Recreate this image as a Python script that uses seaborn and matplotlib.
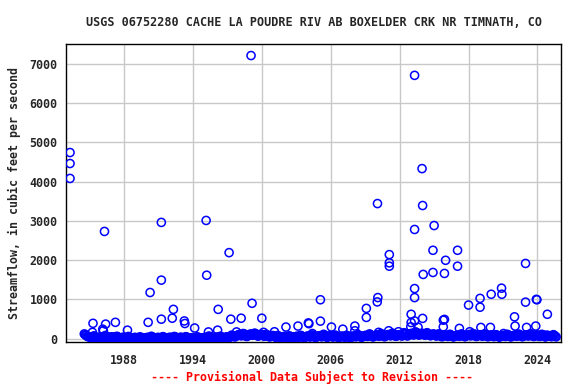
#!/usr/bin/env python3
"""USGS streamflow measurements scatter, Cache la Poudre ab Boxelder Crk."""

import matplotlib
matplotlib.use("Agg")
import matplotlib.pyplot as plt
import numpy as np
import pandas as pd
import seaborn as sns

TITLE = "USGS 06752280 CACHE LA POUDRE RIV AB BOXELDER CRK NR TIMNATH, CO"
YLABEL = "Streamflow, in cubic feet per second"
FOOTER = "---- Provisional Data Subject to Revision ----"

# higher flows (decimal year, cfs)
peak_dates = [
    1983.30, 1983.30, 1983.30, 1985.25, 1985.30, 1986.15, 1986.20, 1986.30,
    1986.40, 1987.25, 1988.30, 1990.10, 1990.27, 1991.25, 1991.25, 1991.25,
    1992.20, 1992.30, 1993.25, 1993.30, 1994.15, 1995.15, 1995.20, 1995.35,
    1996.15, 1996.20, 1997.15, 1997.30, 1997.80, 1998.20, 1999.06, 1999.15,
    2000.00, 2000.15, 2001.10, 2002.10, 2003.15, 2004.05, 2004.10, 2004.40,
    2005.10, 2005.10, 2006.06, 2007.05, 2008.10, 2008.10, 2009.10, 2009.10,
    2010.07, 2010.10, 2010.05, 2010.17, 2011.05, 2011.10, 2011.10, 2011.10,
    2011.90, 2012.97, 2013.00, 2013.00, 2013.30, 2013.30, 2013.30, 2013.30,
    2013.30, 2013.60, 2013.95, 2014.00, 2014.05, 2014.00, 2014.90, 2014.90,
    2015.00, 2015.80, 2015.90, 2015.80, 2016.00, 2015.90, 2017.04, 2017.04,
    2017.20, 2018.00, 2018.10, 2019.00, 2019.00, 2019.07, 2019.90, 2019.97,
    2020.87, 2020.90, 2021.05, 2022.00, 2022.05, 2022.96, 2022.96, 2023.05,
    2023.85, 2023.90, 2023.95, 2024.80, 2024.86,
]
peak_flow = [
    4740, 4460, 4080, 160, 390, 240, 200, 2730,
    370, 415, 215, 415, 1175, 2960, 1490, 495,
    520, 745, 450, 385, 270, 3010, 1615, 170,
    215, 745, 2190, 495, 170, 520, 7210, 900,
    520, 160, 175, 295, 320, 400, 380, 130,
    990, 445, 295, 240, 320, 200, 770, 540,
    3440, 1045, 935, 160, 200, 2140, 1930, 1845,
    175, 300, 620, 410, 6705, 2780, 1275, 1045,
    450, 290, 4330, 3390, 1635, 515, 2250, 1685,
    2880, 470, 490, 300, 1995, 1660, 2250, 1845,
    260, 855, 175, 1025, 800, 285, 285, 1130,
    1285, 1130, 130, 555, 320, 1915, 930, 285,
    320, 1000, 990, 90, 620,
]

# low flows: one reading per month, Jan..Dec
base_years = list(range(1984, 2026))
nan = np.nan
base_flow = [
    [nan, nan, nan, nan, nan, nan, 120, 100, 85, 60, 50, 45],    # 1984
    [40, 30, 25, 35, 70, 55, 30, 20, 15, 25, 35, 40],
    [45, 35, 30, 40, 80, 60, 35, 25, 20, 30, 40, 45],
    [35, 25, 20, 30, 60, 45, 25, 15, 10, 20, 30, 35],
    [30, 20, 15, 25, 55, 40, 20, 10, 10, 15, 25, 30],
    [25, 20, 15, 20, 45, 35, 20, 10, 5, 15, 20, 25],
    [30, 25, 20, 30, 60, 45, 25, 15, 10, 20, 25, 30],
    [25, 20, 15, 25, 50, 40, 20, 10, 10, 15, 25, 30],
    [30, 25, 20, 30, 55, 45, 25, 15, 10, 20, 30, 35],
    [25, 20, 15, 25, 50, 40, 20, 10, 5, 15, 20, 25],
    [25, 20, 15, 20, 45, 35, 20, 10, 10, 15, 20, 25],
    [30, 25, 25, 35, 65, 50, 30, 20, 15, 25, 30, 35],
    [35, 30, 25, 35, 60, 50, 30, 20, 20, 30, 35, 40],
    [45, 40, 35, 50, 90, 75, 60, 45, 50, 70, 85, 95],
    [110, 90, 70, 95, 130, 120, 90, 60, 55, 75, 95, 105],
    [120, 100, 85, 110, 140, 125, 95, 70, 65, 90, 105, 110],
    [90, 80, 60, 85, 110, 95, 70, 50, 45, 60, 70, 80],
    [60, 50, 35, 50, 80, 65, 45, 30, 25, 40, 50, 55],
    [55, 45, 30, 45, 70, 60, 40, 25, 20, 35, 45, 50],
    [60, 50, 35, 55, 85, 70, 50, 30, 25, 45, 55, 60],
    [65, 55, 40, 60, 95, 80, 55, 35, 30, 50, 60, 65],
    [75, 60, 45, 70, 110, 90, 65, 40, 35, 55, 65, 70],
    [65, 55, 40, 60, 90, 75, 55, 35, 30, 45, 55, 60],
    [60, 50, 35, 55, 85, 70, 50, 30, 25, 40, 50, 55],
    [70, 60, 45, 65, 100, 85, 60, 40, 35, 55, 65, 70],
    [85, 70, 55, 80, 120, 100, 75, 50, 45, 65, 80, 85],
    [95, 80, 60, 90, 130, 110, 85, 55, 50, 70, 85, 95],
    [105, 90, 70, 100, 140, 120, 90, 65, 60, 80, 95, 100],
    [100, 85, 65, 120, 150, 135, 120, 75, 70, 110, 120, 125],
    [135, 115, 90, 140, 170, 160, 140, 100, 90, 120, 130, 135],
    [125, 105, 85, 120, 150, 135, 110, 80, 75, 95, 110, 120],
    [95, 80, 65, 90, 120, 105, 80, 55, 50, 70, 85, 90],
    [85, 70, 55, 80, 110, 95, 75, 50, 45, 65, 75, 80],
    [90, 75, 60, 85, 120, 105, 80, 55, 50, 70, 80, 85],
    [105, 90, 70, 95, 130, 115, 90, 60, 55, 75, 90, 100],
    [95, 80, 60, 90, 120, 105, 85, 55, 50, 70, 85, 90],
    [80, 65, 50, 75, 100, 90, 70, 45, 40, 60, 70, 75],
    [85, 70, 55, 80, 110, 95, 75, 50, 45, 65, 75, 80],
    [90, 75, 60, 85, 115, 100, 80, 55, 50, 70, 80, 85],
    [95, 80, 65, 90, 125, 110, 85, 60, 55, 75, 85, 90],
    [85, 70, 55, 80, 110, 95, 75, 50, 45, 60, 70, 75],
    [75, 65, 50, 70, 100, 85, 60, 45, nan, nan, nan, nan],       # 2025
]


def build_frame():
    rows = [{"year": d, "flow": f} for d, f in zip(peak_dates, peak_flow)]
    for yr, vals in zip(base_years, base_flow):
        for m, v in enumerate(vals):
            rows.append({"year": yr + (m + 0.5) / 12.0, "flow": v})
    return pd.DataFrame(rows).dropna()


def main():
    sns.set_style("whitegrid", {"grid.color": "#c8c8c8", "axes.edgecolor": "black"})
    plt.rcParams["font.family"] = ["DejaVu Sans Mono", "DejaVu Sans"]
    plt.rcParams["font.weight"] = "bold"

    df = build_frame()

    fig = plt.figure(figsize=(5.76, 3.84), dpi=100)
    ax = fig.add_axes([0.1146, 0.110, 0.8594, 0.775])
    sns.scatterplot(
        data=df,
        x="year",
        y="flow",
        marker="o",
        s=34,
        facecolor="none",
        edgecolor="#0000ff",
        linewidth=1.1,
        ax=ax,
        zorder=3,
    )
    ax.set_xlim(1982.95, 2026.05)
    ax.set_ylim(-80, 7500)
    ax.set_xticks([1988, 1994, 2000, 2006, 2012, 2018, 2024])
    ax.set_yticks([0, 1000, 2000, 3000, 4000, 5000, 6000, 7000])
    ax.tick_params(axis="both", labelsize=8.4, length=0)
    ax.tick_params(axis="x", pad=9)
    ax.tick_params(axis="y", pad=6)
    for lab in ax.get_xticklabels() + ax.get_yticklabels():
        lab.set_fontweight("bold")
    for sp in ax.spines.values():
        sp.set_color("black")
        sp.set_linewidth(1.0)
    ax.grid(True, color="#c8c8c8", linewidth=1.0)
    ax.set_xlabel("")
    ax.set_ylabel(YLABEL, fontsize=8.4, fontweight="bold", labelpad=6)
    ax.set_title(TITLE, fontsize=8.5, fontweight="bold", pad=13)
    fig.text(0.542, 0.016, FOOTER, color="red", fontsize=8.4,
             fontweight="bold", ha="center", va="center")
    fig.savefig("out.png", dpi=100)
    plt.close(fig)


if __name__ == "__main__":
    main()
